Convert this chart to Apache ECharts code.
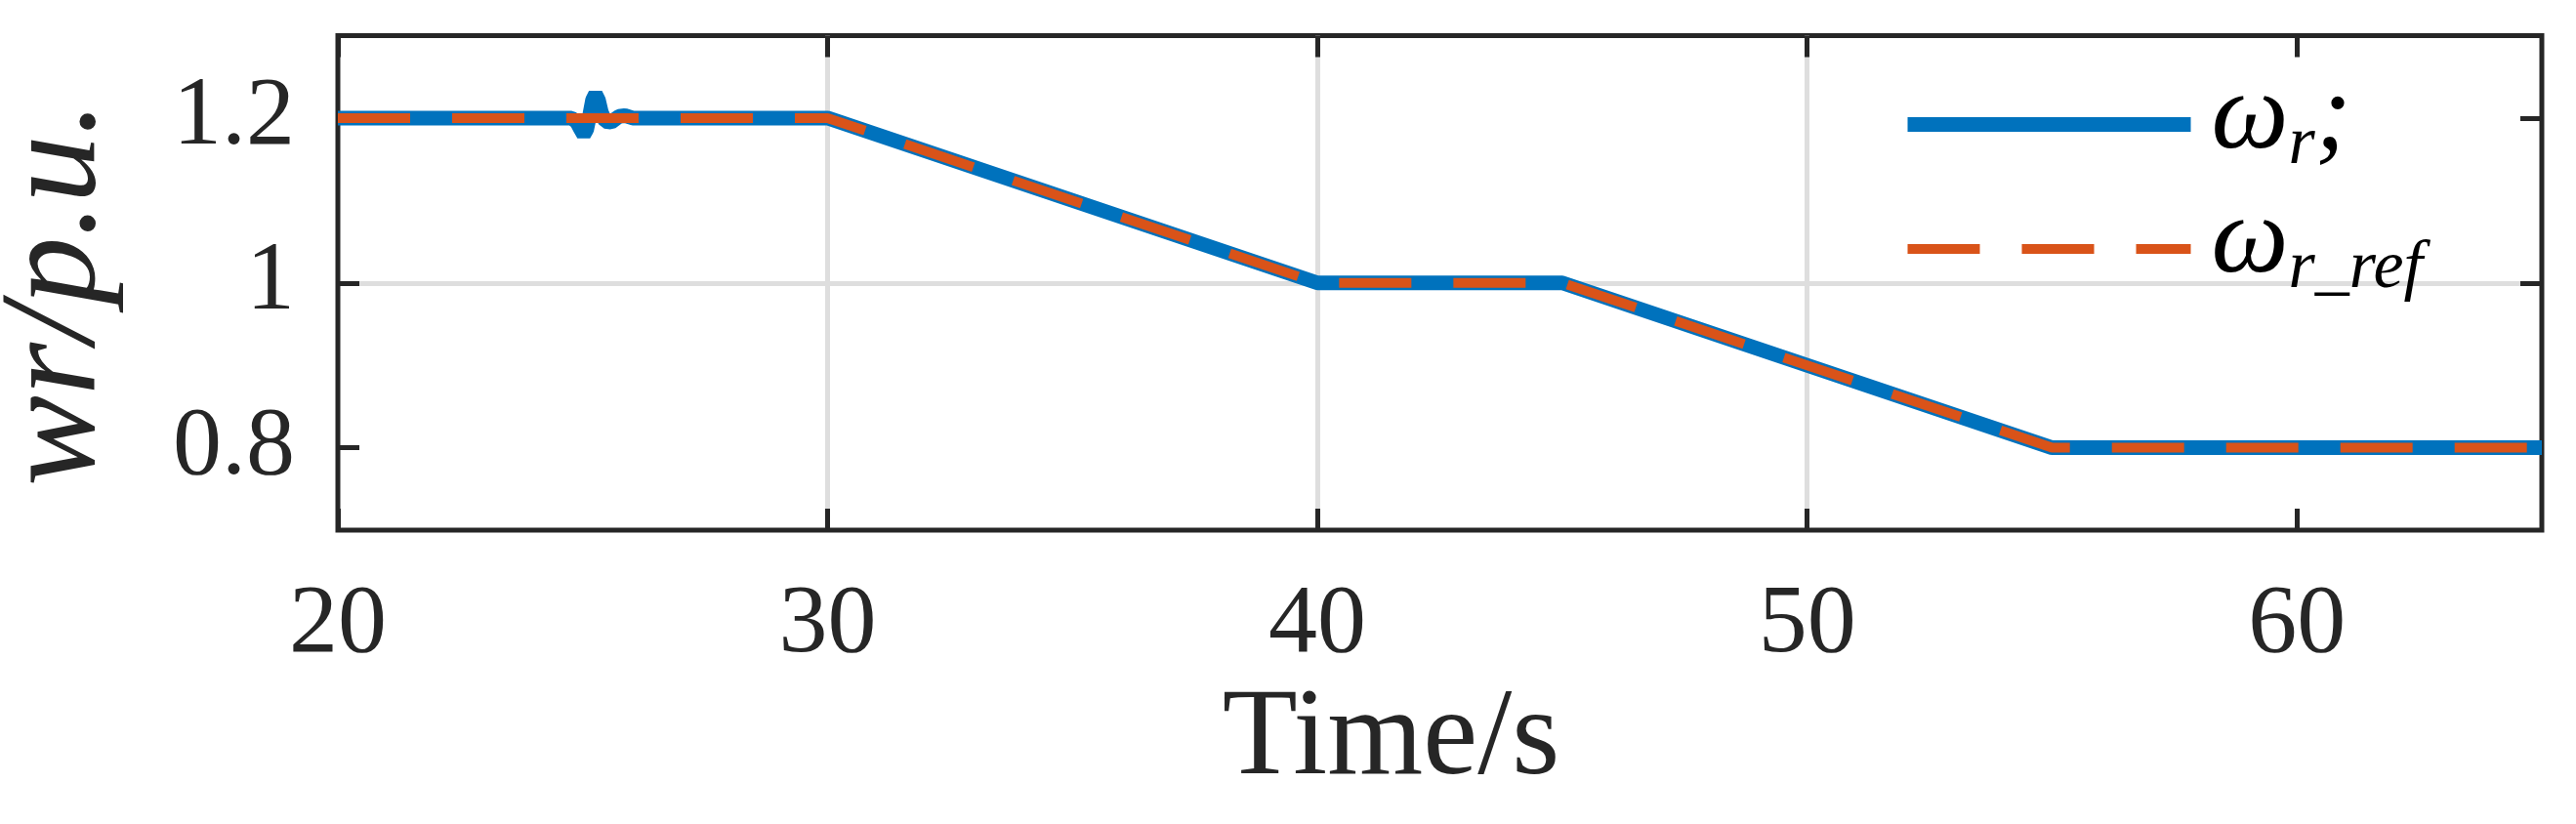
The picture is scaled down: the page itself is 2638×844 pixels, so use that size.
<!DOCTYPE html>
<html>
<head>
<meta charset="utf-8">
<script src="https://cdn.jsdelivr.net/npm/echarts@6/dist/echarts.min.js"></script>
<style>
	html, body { margin: 0; padding: 0; background: #fff; }
	#mychart { width: 2638px; height: 844px; }
</style>
</head>
<body>
<div id="mychart"></div>
<script>
// reference speed (piecewise linear)
var timeRef = [20, 30, 40, 45, 55, 65];
var wrRef = [1.2, 1.2, 1.0, 1.0, 0.8, 0.8];

// measured rotor speed, with the small swing near t = 25 s
var timeWr = [20, 24.77, 24.88, 24.96, 25.02, 25.08, 25.14, 25.2, 25.26, 25.32, 25.38, 25.46, 25.58, 25.74, 25.86, 26.02, 30, 40, 45, 55, 65];
var wrVals = [1.2, 1.2, 1.195, 1.186, 1.18, 1.186, 1.203, 1.222, 1.229, 1.222, 1.207, 1.196, 1.195, 1.202, 1.203, 1.2, 1.2, 1.0, 1.0, 0.8, 0.8];

var xTicks = [20, 30, 40, 50, 60];
var yTicks = [0.8, 1.0, 1.2];

var wrChart = {
	initial : function initial() {
		var myChart = echarts.init(document.getElementById('mychart'));
		myChart.setOption(this.buildOption());
	},

	pairs : function pairs(xs, ys) {
		var out = [];
		for (var i = 0; i < xs.length; i++) {
			out.push([xs[i], ys[i]]);
		}
		return out;
	},

	buildOption : function buildOption() {
		var ink = '#262626';
		var serif = 'Liberation Serif';
		var legendText = {
			'wr' : '{w|ω}{s|r}{w|;}',
			'wrRef' : '{w|ω}{s|r_ref}'
		};

		return {
			animation: false,
			backgroundColor: '#fff',
			grid: {
				left: 346, top: 36.5, right: 35, bottom: 301,
				outerBoundsMode: 'none',
				show: true, borderWidth: 5, borderColor: ink, backgroundColor: 'transparent'
			},
			legend: {
				orient: 'vertical',
				left: 1941, top: 60.5,
				itemWidth: 290, itemHeight: 16, itemGap: 3.5,
				itemStyle: { opacity: 0 },
				data: [
					{ name: 'wr', lineStyle: { width: 15 } },
					{ name: 'wrRef', lineStyle: { width: 10, type: [74, 43] } }
				],
				formatter: function(name) { return legendText[name]; },
				textStyle: {
					padding: [0, 0, 0, 16],
					rich: {
						w: { fontFamily: serif, fontStyle: 'italic', fontSize: 112, lineHeight: 100, padding: [0, 0, 12, 0], color: '#000' },
						s: { fontFamily: serif, fontStyle: 'italic', fontSize: 70, lineHeight: 66, padding: [42, 0, 0, 0], color: '#000' }
					}
				}
			},
			xAxis: [
				{
					type: 'value', position: 'bottom', min: 20, max: 65,
					name: 'Time/s', nameLocation: 'middle', nameGap: 129,
					nameTextStyle: { fontFamily: serif, fontSize: 126, color: ink, padding: [0, 100, 0, 0] },
					axisLine: { show: false },
					axisTick: { show: true, inside: true, length: 22, lineStyle: { color: ink, width: 5 }, customValues: xTicks },
					axisLabel: { customValues: xTicks, margin: 48, fontFamily: serif, fontSize: 100, color: ink },
					splitLine: { show: true, showMinLine: false, showMaxLine: false, lineStyle: { color: '#dedede', width: 5 } }
				},
				{
					type: 'value', position: 'top', min: 20, max: 65,
					axisLine: { show: false },
					axisTick: { show: true, inside: true, length: 22, lineStyle: { color: ink, width: 5 }, customValues: xTicks },
					axisLabel: { show: false },
					splitLine: { show: false }
				}
			],
			yAxis: [
				{
					type: 'value', position: 'left', min: 0.7, max: 1.3,
					name: 'wr/p.u.', nameLocation: 'middle', nameGap: 217,
					nameTextStyle: { fontFamily: serif, fontStyle: 'italic', fontSize: 139, color: ink, padding: [0, 22, 0, 0] },
					axisLine: { show: false },
					axisTick: { show: true, inside: true, length: 22, lineStyle: { color: ink, width: 5 }, customValues: yTicks },
					axisLabel: { customValues: yTicks, margin: 44, fontFamily: serif, fontSize: 100, color: ink, padding: [0, 0, 52, 0] },
					splitLine: { show: true, showMinLine: false, showMaxLine: false, lineStyle: { color: '#dedede', width: 5 } }
				},
				{
					type: 'value', position: 'right', min: 0.7, max: 1.3,
					axisLine: { show: false },
					axisTick: { show: true, inside: true, length: 22, lineStyle: { color: ink, width: 5 }, customValues: yTicks },
					axisLabel: { show: false },
					splitLine: { show: false }
				}
			],
			series: [
				{
					name: 'wr', type: 'line', xAxisIndex: 0, yAxisIndex: 0,
					data: this.pairs(timeWr, wrVals),
					symbol: 'none', clip: false,
					lineStyle: { color: '#0072BD', width: 15 },
					itemStyle: { color: '#0072BD' },
					z: 3
				},
				{
					name: 'wrRef', type: 'line', xAxisIndex: 0, yAxisIndex: 0,
					data: this.pairs(timeRef, wrRef),
					symbol: 'none', clip: false,
					lineStyle: { color: '#D95319', width: 10, type: [74, 43] },
					itemStyle: { color: '#D95319' },
					z: 4
				}
			]
		};
	}
};

wrChart.initial();
</script>
</body>
</html>
